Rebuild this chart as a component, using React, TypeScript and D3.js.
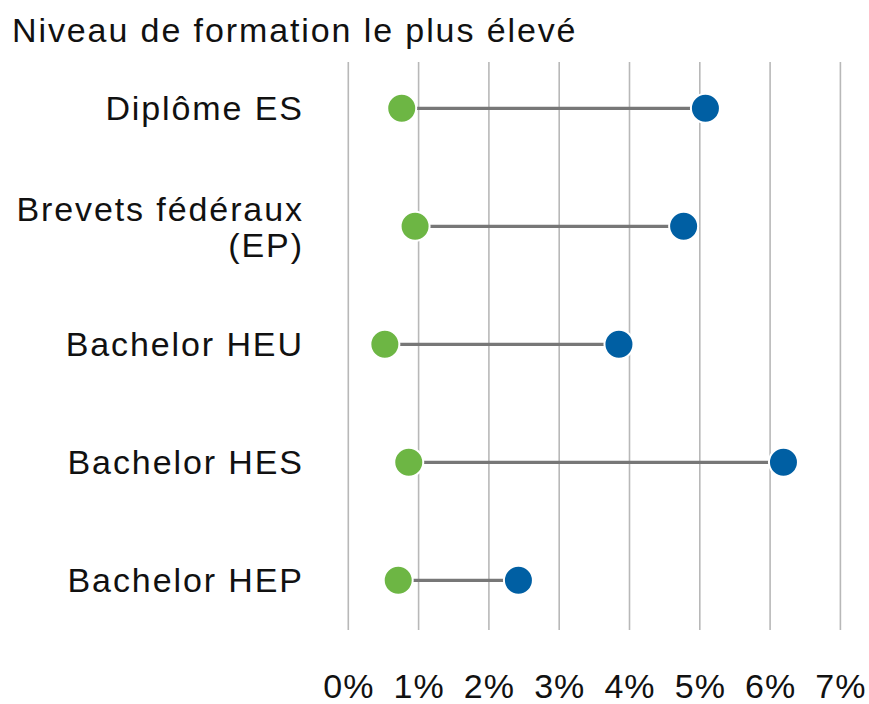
import React, { useRef, useEffect } from 'react';
import * as d3 from 'd3';

const W = 869;
const H = 704;

const categories = ['Diplôme ES', 'Brevets fédéraux\n(EP)', 'Bachelor HEU', 'Bachelor HES', 'Bachelor HEP'];
const greenValues = [0.76, 0.95, 0.52, 0.86, 0.71];
const blueValues = [5.08, 4.77, 3.85, 6.19, 2.42];
const xTicks = [0, 1, 2, 3, 4, 5, 6, 7];
const title = 'Niveau de formation le plus élevé';

const FONT = '"Liberation Sans", Arial, sans-serif';
const LS = 1.9; // letter spacing for labels

export default function App() {
  const svgRef = useRef<SVGSVGElement>(null);

  useEffect(() => {
    if (!svgRef.current) return;
    const svg = d3.select(svgRef.current);
    svg.selectAll('*').remove();

    const x = d3.scaleLinear().domain([0, 7]).range([348.3, 840.4]);
    const y = d3.scalePoint<string>().domain(categories).range([108.3, 580.3]);

    // Grid
    svg.append('g').selectAll('line')
      .data(xTicks)
      .join('line')
      .attr('x1', d => x(d)).attr('x2', d => x(d))
      .attr('y1', 62).attr('y2', 630)
      .attr('stroke', '#b8b8b8').attr('stroke-width', 1.6);

    // Tick labels
    svg.append('g').selectAll('text')
      .data(xTicks)
      .join('text')
      .attr('x', d => x(d) + 0.5).attr('y', 698)
      .attr('text-anchor', 'middle')
      .attr('font-family', FONT).attr('font-size', 34).attr('letter-spacing', 1).attr('fill', '#111')
      .text(d => `${d}%`);

    // Title
    svg.append('text')
      .attr('x', 12).attr('y', 42)
      .attr('font-family', FONT).attr('font-size', 34).attr('letter-spacing', LS).attr('fill', '#111')
      .text(title);

    // Category labels
    const rows = categories.map((c, i) => ({ c, g: greenValues[i], b: blueValues[i] }));
    const labels = svg.append('g').selectAll('text')
      .data(rows)
      .join('text')
      .attr('font-family', FONT).attr('font-size', 34).attr('letter-spacing', LS).attr('fill', '#111')
      .attr('text-anchor', 'end');
    labels.each(function (d) {
      const lines = d.c.split('\n');
      const t = d3.select(this);
      const y0 = y(d.c)! + 12 - (lines.length - 1) * 17;
      lines.forEach((l, k) => {
        t.append('tspan').attr('x', 302 + LS).attr('y', y0 + k * 36).text(l);
      });
    });

    // Connectors
    svg.append('g').selectAll('line')
      .data(rows)
      .join('line')
      .attr('x1', d => x(d.g)).attr('x2', d => x(d.b))
      .attr('y1', d => y(d.c)!).attr('y2', d => y(d.c)!)
      .attr('stroke', '#777').attr('stroke-width', 3.2);

    // Dots
    svg.append('g').selectAll('circle')
      .data(rows)
      .join('circle')
      .attr('cx', d => x(d.g)).attr('cy', d => y(d.c)!)
      .attr('r', 14.5).attr('fill', '#6db644').attr('stroke', 'white').attr('stroke-width', 2);

    svg.append('g').selectAll('circle')
      .data(rows)
      .join('circle')
      .attr('cx', d => x(d.b)).attr('cy', d => y(d.c)!)
      .attr('r', 14.5).attr('fill', '#005fa3').attr('stroke', 'white').attr('stroke-width', 2);
  }, []);

  return (
    <div style={{ position: 'absolute', left: 0, top: 0 }}>
      <svg ref={svgRef} width={W} height={H} style={{ display: 'block', background: 'white' }} />
    </div>
  );
}
